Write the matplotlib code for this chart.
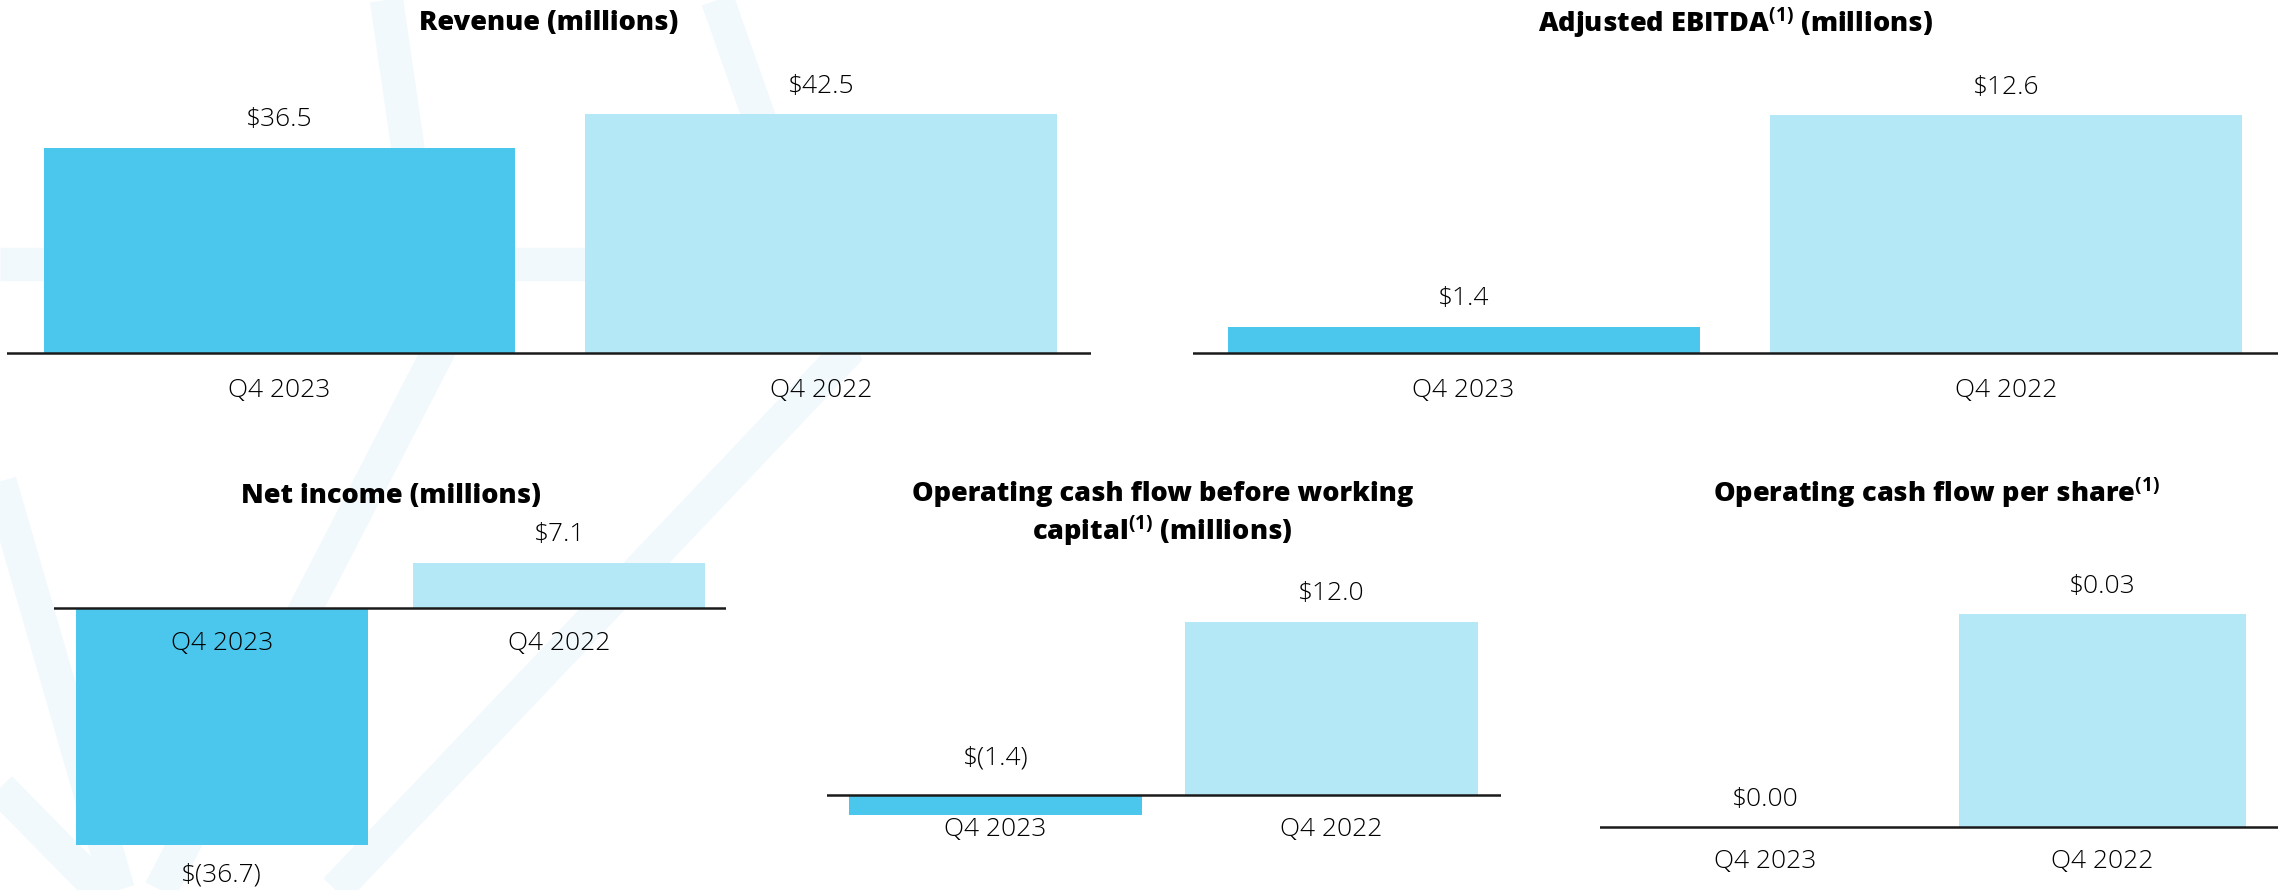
import matplotlib
matplotlib.use("Agg")
import matplotlib.pyplot as plt
from matplotlib.lines import Line2D

plt.rcParams['font.family'] = ['Open Sans', 'DejaVu Sans']
plt.rcParams['mathtext.fontset'] = 'custom'
plt.rcParams['mathtext.rm'] = 'Open Sans'
plt.rcParams['mathtext.bf'] = 'Open Sans:bold'

# datos
periodos = ['Q4 2023', 'Q4 2022']
revenue = [36.5, 42.5]
adj_ebitda = [1.4, 12.6]
net_income = [-36.7, 7.1]
ocf_antes_wc = [-1.4, 12.0]
ocf_por_accion = [0.00, 0.03]

titulos = ['Revenue (millions)',
           'Adjusted EBITDA$^{\\mathbf{(1)}}$ (millions)',
           'Net income (millions)',
           'Operating cash flow before working\ncapital$^{\\mathbf{(1)}}$ (millions)',
           'Operating cash flow per share$^{\\mathbf{(1)}}$']

color_actual = '#4bc7ed'
color_anterior = '#b5e8f6'
color_marca = '#f1f9fc'
color_texto = '#000000'

# el layout se midio sobre la imagen reducida de 1568x610
W, H = 1568, 610

def fx(x):
    return x / W

def fy(y):
    return 1 - y / H

fig = plt.figure(figsize=(22.87, 8.90), dpi=100)

# marca de agua de fondo (franjas celestes muy claras)
franjas = [
    [(265, 0), (300, 242), (110, 610)],
    [(492, 0), (578, 244), (230, 610)],
    [(0, 181), (500, 181)],
    [(0, 330), (81, 610)],
    [(0, 540), (69, 610)],
]
for f in franjas:
    xs = [fx(p[0]) for p in f]
    ys = [fy(p[1]) for p in f]
    fig.add_artist(Line2D(xs, ys, transform=fig.transFigure, color=color_marca,
                          lw=24, solid_capstyle='butt', solid_joinstyle='miter', zorder=0))

# (valores, titulo, decimales, linea izq, linea der, centros barras, y del eje, px por unidad,
#  y arriba, y abajo, ancho barra, titulo x, titulo y, pad etiquetas)
paneles = [
    (revenue, titulos[0], 1, 5, 748, (191.5, 563), 242, 164 / 42.5, 55, 250, 0.87, 376, 16, 27),
    (adj_ebitda, titulos[1], 1, 818, 1562, (1003.5, 1375.5), 242, 163 / 12.6, 55, 250, 0.87, 1190, 16, 27),
    (net_income, titulos[2], 1, 37, 498, (152, 383.5), 417, 162 / 36.7, 375, 585, 0.864, 268, 340, 25),
    (ocf_antes_wc, titulos[3], 1, 567, 1029, (682.5, 913), 545, 119 / 12.0, 400, 565, 0.87, 797, 353, 25),
    (ocf_por_accion, titulos[4], 2, 1097, 1562, (1210, 1441.5), 567, 146 / 0.03, 400, 580, 0.851, 1328, 338, 25),
]

for (vals, titulo, dec, xl, xr, centros, y0, ppu, yt, yb, ancho, tx, ty, pad) in paneles:
    ax = fig.add_axes([fx(xl), fy(yb), (xr - xl) / W, (yb - yt) / H])
    sep = centros[1] - centros[0]
    ax.set_xlim(-(centros[0] - xl) / sep, 1 + (xr - centros[1]) / sep)
    ax.set_ylim(-(yb - y0) / ppu, (y0 - yt) / ppu)
    ax.patch.set_alpha(0)
    for s in ax.spines.values():
        s.set_visible(False)
    # las etiquetas del eje x van pegadas a la linea de cero
    ax.spines['bottom'].set_position(('data', 0))

    ax.bar([0, 1], vals, width=ancho, color=[color_actual, color_anterior], zorder=1)
    ax.axhline(0, color='#1a1a1a', lw=1.8, zorder=2)

    ax.set_yticks([])
    ax.set_xticks([0, 1], periodos)
    ax.tick_params(axis='x', length=0, pad=pad, labelsize=19, labelcolor=color_texto)
    for lab in ax.get_xticklabels():
        lab.set_va('center')
        lab.set_fontweight('light')

    maximo = max(abs(v) for v in vals)
    for i, v in enumerate(vals):
        if v < 0:
            txt = '\\$({:.{d}f})'.format(abs(v), d=dec)
        else:
            txt = '\\${:.{d}f}'.format(v, d=dec)
        if v < 0 and abs(v) > 0.2 * maximo:
            ax.annotate(txt, (i, v), xytext=(0, -22), textcoords='offset points',
                        ha='center', va='center', fontsize=19, fontweight='light',
                        color=color_texto, annotation_clip=False)
        elif v < 0:
            ax.annotate(txt, (i, 0), xytext=(0, 27), textcoords='offset points',
                        ha='center', va='center', fontsize=19, fontweight='light',
                        color=color_texto, annotation_clip=False)
        else:
            ax.annotate(txt, (i, v), xytext=(0, 20), textcoords='offset points',
                        ha='center', va='center', fontsize=19, fontweight='light',
                        color=color_texto, annotation_clip=False)

    fig.text(fx(tx), fy(ty), titulo, ha='center', va='center', fontsize=19.5,
             fontweight='extra bold', color='black', linespacing=1.25)

fig.savefig('out.png', dpi=100, facecolor='white')
